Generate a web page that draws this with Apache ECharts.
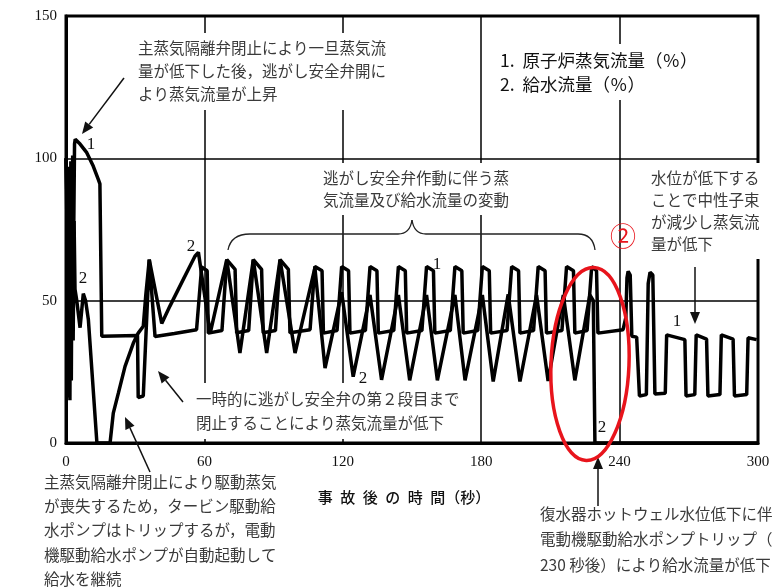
<!DOCTYPE html>
<html>
<head>
<meta charset="utf-8">
<script src="https://cdn.jsdelivr.net/npm/echarts@6/dist/echarts.min.js"></script>
<style>
html, body { margin: 0; padding: 0; background: #fff; }
#chart { width: 779px; height: 587px; }
</style>
</head>
<body>
<div id="chart"></div>
<script>
// 軸の目盛
var xTicks = [0, 60, 120, 180, 240, 300];
var yTicks = [0, 50, 100, 150];

// 1. 原子炉蒸気流量（%） [秒, %]
var steamFlow = [
    [0, 100], [0.4, 100], [0.7, 60], [1.0, 16], [1.3, 95], [1.7, 15], [2.1, 99], [2.5, 42],
    [2.9, 101], [3.3, 70], [3.7, 105], [4.0, 106.7], [6.1, 105], [9.0, 102], [11.8, 97.3],
    [14.0, 92.6], [14.7, 91], [15.5, 37.5], [31.0, 37.8], [31.3, 16], [33.5, 16.5], [36.1, 64.4],
    [38.6, 37.4], [47, 38.5], [56.6, 39.8], [58.8, 61.8], [61.2, 60.5], [61.7, 38.6],
    [67.6, 39.5], [69.7, 64.4], [73.3, 61], [74, 38.7],
    [79.2, 39.5], [81.2, 64.4], [84.8, 61], [85.5, 38.7],
    [90.8, 39.5], [92.8, 64.4], [96.4, 61], [97.1, 38.7],
    [105.8, 39.8], [107.9, 62], [111, 60.5], [111.6, 38.6],
    [117.5, 39.5], [119.5, 62], [122.5, 60.5], [123.1, 38.6],
    [129.8, 39.5], [131.8, 62], [134.8, 60.5], [135.4, 38.6],
    [142.1, 39.5], [144.1, 62], [147.1, 60.5], [147.7, 38.6],
    [154.3, 39.5], [156.3, 62], [159.3, 60.5], [159.9, 38.6],
    [166.6, 39.5], [168.6, 62], [171.6, 60.5], [172.2, 38.6],
    [178.5, 39.5], [180.5, 62], [183.5, 60.5], [184.1, 38.6],
    [191.2, 39.5], [193.2, 62], [196.2, 60.5], [196.8, 38.6],
    [202.7, 39.5], [204.7, 62], [207.7, 60.5], [208.3, 38.6],
    [215, 39.5], [217, 62], [220, 60.5], [220.6, 38.6],
    [225.9, 39.5], [227.9, 62], [230, 60.5], [230.6, 38.6],
    [241.5, 39.8], [242.7, 44], [243.2, 58], [243.7, 60.3], [244.6, 59], [245.3, 37.5],
    [247.4, 37.2], [248.6, 16.5], [251.6, 17], [252.4, 56], [253.2, 60], [254.4, 59], [255.3, 17.2],
    [259.8, 17.5], [260.4, 38], [268.3, 36.3], [268.8, 16.5],
    [272.6, 17], [273.2, 38], [277.7, 36.5], [278.3, 16.5],
    [283.5, 17], [284.1, 38], [289.2, 36.5], [289.8, 16.5],
    [295.1, 17], [295.7, 37], [299.4, 36.3]
];

// 2. 給水流量（%） [秒, %]
var feedwaterFlow = [
    [0, 100], [0.5, 100], [0.8, 72], [1.1, 97], [1.5, 30], [1.9, 94], [2.3, 22], [2.7, 88],
    [3.1, 36], [3.5, 78], [3.9, 54], [4.6, 50.4], [6.1, 40.5], [7.5, 52.5], [8.5, 50],
    [9.7, 43.3], [13.4, 0], [19.1, 0], [20.5, 10.5], [22.7, 17.5], [25.6, 26.9], [29.2, 35.1],
    [31.3, 38.6], [33.5, 41], [34.6, 52], [36.1, 64.4], [41.5, 42], [45, 48], [50.8, 57.4],
    [55.9, 65.6], [57.4, 67], [62.5, 38.5],
    [69.7, 64.4], [75.4, 31.6], [81.2, 64.4], [87, 31.6], [92.8, 64.4], [99.3, 31.6],
    [107.9, 61.5], [112.3, 26.3], [119.5, 53], [124.5, 23.3], [131.8, 52], [136.8, 22.2],
    [144.1, 52], [149, 22], [156.3, 52], [161, 22], [168.6, 52], [173, 22],
    [180.5, 52], [185.2, 21.6], [191.7, 52.2], [196.8, 21.6], [204, 52], [209, 21.8],
    [215.6, 52], [220.6, 22], [227.1, 52], [228.6, 50], [229.3, 0], [300, 0]
];

var seriesNames = ['原子炉蒸気流量（%）', '給水流量（%）'];

var jp = '"Noto Sans CJK JP", sans-serif';
var serif = '"Liberation Serif", "DejaVu Serif", serif';

function note(x, y, text, size, lh, bg, color) {
    return {
        type: 'text', x: x, y: y, z: 1,
        style: {
            text: text, fontFamily: jp, fontSize: size, lineHeight: lh,
            fill: color || '#3a3a3a', backgroundColor: bg ? '#fff' : null,
            padding: bg ? [4, 3] : 0, verticalAlign: 'top'
        }
    };
}

function curveLabel(x, y, t) {
    return {
        type: 'text', x: x, y: y, z: 5,
        style: { text: t, fontFamily: serif, fontSize: 17, fill: '#111', align: 'center', verticalAlign: 'middle' }
    };
}

function arrow(x1, y1, x2, y2) {
    var a = Math.atan2(y2 - y1, x2 - x1), len = 12, w = 5;
    var bx = x2 - len * Math.cos(a), by = y2 - len * Math.sin(a);
    return [
        { type: 'line', z: 6, shape: { x1: x1, y1: y1, x2: bx, y2: by }, style: { stroke: '#111', lineWidth: 1.5 } },
        { type: 'polygon', z: 6, shape: { points: [[x2, y2],
            [bx + w * Math.sin(a), by - w * Math.cos(a)],
            [bx - w * Math.sin(a), by + w * Math.cos(a)]] }, style: { fill: '#111' } }
    ];
}

// 波括弧
var braceStyle = { fill: null, stroke: '#222', lineWidth: 1.3 };
var brace = [
    { type: 'bezierCurve', z: 4, shape: { x1: 228, y1: 250, cpx1: 231, cpy1: 234, x2: 250, y2: 234 }, style: braceStyle },
    { type: 'line', z: 4, shape: { x1: 250, y1: 234, x2: 398, y2: 234 }, style: braceStyle },
    { type: 'bezierCurve', z: 4, shape: { x1: 398, y1: 234, cpx1: 410, cpy1: 234, x2: 412, y2: 220 }, style: braceStyle },
    { type: 'bezierCurve', z: 4, shape: { x1: 412, y1: 220, cpx1: 414, cpy1: 234, x2: 426, y2: 234 }, style: braceStyle },
    { type: 'line', z: 4, shape: { x1: 426, y1: 234, x2: 578, y2: 234 }, style: braceStyle },
    { type: 'bezierCurve', z: 4, shape: { x1: 578, y1: 234, cpx1: 593, cpy1: 234, x2: 595, y2: 250 }, style: braceStyle }
];

var graphics = [
    note(135, 33, '主蒸気隔離弁閉止により一旦蒸気流\n量が低下した後，逃がし安全弁開に\nより蒸気流量が上昇', 15.5, 23, true),
    note(497, 44, '1.  原子炉蒸気流量（％）\n2.  給水流量（％）', 17.5, 24, true, '#111'),
    note(320, 163, '逃がし安全弁作動に伴う蒸\n気流量及び給水流量の変動', 15.5, 22, true),
    note(648, 163, '水位が低下する\nことで中性子束\nが減少し蒸気流\n量が低下', 15.5, 22, true),
    note(193, 383, '一時的に逃がし安全弁の第２段目まで\n閉止することにより蒸気流量が低下', 15.5, 24, true),
    note(44, 470, '主蒸気隔離弁閉止により駆動蒸気\nが喪失するため，タービン駆動給\n水ポンプはトリップするが，電動\n機駆動給水ポンプが自動起動して\n給水を継続', 15.5, 24.2, false),
    note(540, 501, '復水器ホットウェル水位低下に伴\n電動機駆動給水ポンプトリップ（\n230 秒後）により給水流量が低下', 15.5, 25.5, false),
    {
        type: 'text', x: 404, y: 497, z: 5,
        style: { text: '事\u2002故\u2002後\u2002の\u2002時\u2002間（秒）', fontFamily: jp, fontSize: 15, fontWeight: 500, fill: '#111', align: 'center', verticalAlign: 'middle' }
    },
    {
        type: 'text', x: 623, y: 236, z: 10,
        style: { text: '②', fontFamily: jp, fontSize: 26, fill: '#e8141c', align: 'center', verticalAlign: 'middle' }
    },
    {
        type: 'ellipse', z: 10,
        shape: { cx: 590, cy: 364, rx: 39, ry: 96.5 },
        rotation: -0.04, originX: 590, originY: 364,
        style: { fill: null, stroke: '#e8141c', lineWidth: 3.5 }
    },
    curveLabel(91, 145, '1'),
    curveLabel(83, 279, '2'),
    curveLabel(191, 247, '2'),
    curveLabel(437, 265, '1'),
    curveLabel(363, 379, '2'),
    curveLabel(602, 428, '2'),
    curveLabel(677, 322, '1')
]
    .concat(brace)
    .concat(arrow(124, 78, 82, 134))
    .concat(arrow(183, 402, 158, 371))
    .concat(arrow(150, 472, 125, 417))
    .concat(arrow(695, 267, 695, 324))
    .concat(arrow(598, 506, 598, 457));

var axisCommon = {
    type: 'value',
    axisLine: { show: true, lineStyle: { color: '#000', width: 3 } },
    axisTick: { show: false },
    axisLabel: { color: '#111', fontFamily: serif, fontSize: 15 },
    splitLine: { show: true, lineStyle: { color: '#000', width: 1.5 } }
};

var myChart = echarts.init(document.getElementById('chart'));
var option = {
    animation: false,
    backgroundColor: '#fff',
    grid: { left: 66, right: 21, top: 16, bottom: 144, show: true, borderColor: '#000', borderWidth: 3 },
    xAxis: echarts.util.merge({
        min: xTicks[0], max: xTicks[xTicks.length - 1], interval: xTicks[1] - xTicks[0],
        axisLabel: { margin: 12 }
    }, axisCommon),
    yAxis: echarts.util.merge({
        min: yTicks[0], max: yTicks[yTicks.length - 1], interval: yTicks[1] - yTicks[0],
        axisLabel: { margin: 9 }
    }, axisCommon),
    series: [
        { name: seriesNames[0], type: 'line', data: steamFlow, showSymbol: false, z: 3,
          lineStyle: { color: '#000', width: 3.5 } },
        { name: seriesNames[1], type: 'line', data: feedwaterFlow, showSymbol: false, z: 3,
          lineStyle: { color: '#000', width: 3.5 } }
    ],
    graphic: graphics
};
myChart.setOption(option);
</script>
</body>
</html>
